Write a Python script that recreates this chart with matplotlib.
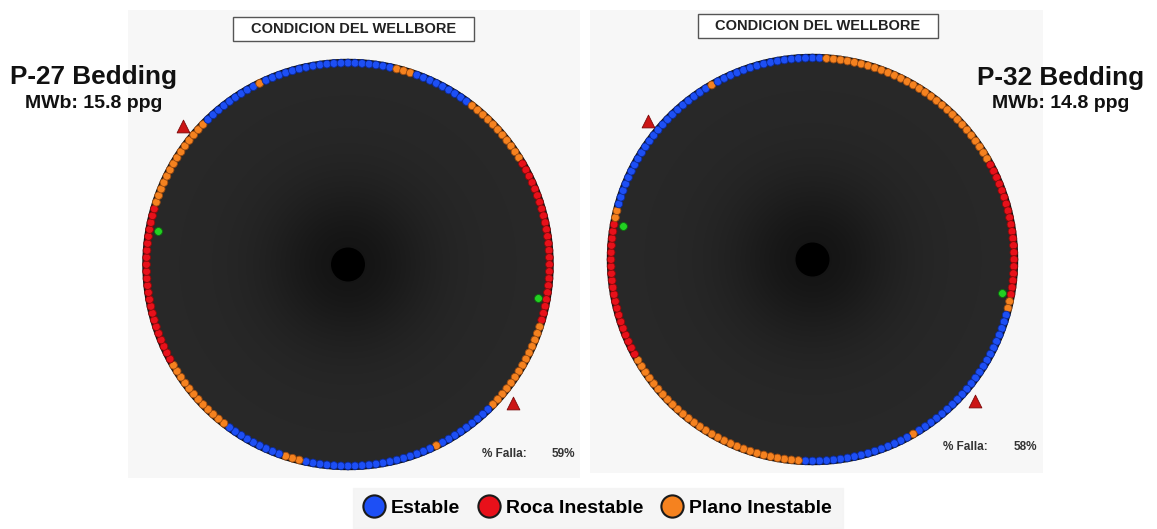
import numpy as np
import matplotlib
matplotlib.use("Agg")
import matplotlib.pyplot as plt
from matplotlib.patches import Circle, Rectangle
from matplotlib.lines import Line2D

plt.rcParams['font.family'] = ['Liberation Sans', 'DejaVu Sans']

# ---- data -------------------------------------------------------------
STATE_LABELS = ["Estable", "Roca Inestable", "Plano Inestable"]
STATE_FACE = ["#1d4ff5", "#e8101a", "#f5821f"]
STATE_EDGE = ["#0b2a9a", "#8a0a0a", "#9a4a10"]

WELL_NAMES = ["P-27 Bedding", "P-32 Bedding"]
MUD_WEIGHTS = [15.8, 14.8]          # ppg
AZ_STEP = 2.0                       # degrees between rim samples, from azimuth 0 clockwise

# run-length encoded state around the wellbore wall (0 estable, 1 roca, 2 plano)
p27_run_state = [0, 2, 0, 2, 1, 2, 0, 2, 0, 2, 0, 2, 1, 2, 0, 2, 0]
p27_run_len = [7, 3, 9, 11, 24, 14, 9, 1, 19, 3, 9, 12, 23, 14, 9, 1, 12]
p32_run_state = [0, 2, 1, 2, 0, 2, 0, 2, 1, 2, 0, 2, 0]
p32_run_len = [2, 29, 20, 2, 22, 1, 16, 29, 20, 2, 22, 1, 14]

# stress direction markers (azimuth, degrees)
green_az = [[280, 100], [280, 100]]
triangle_az = [[310, 130], [310, 131]]

# ---- layout (figure pixels) ------------------------------------------
W, H = 1157, 529
R = 205.0
panels = [
    dict(box=(128, 10, 580, 478), center=(348, 264.5), name_x=-254, name_y=180.5, mw_y=156,
         falla_x=134, falla_y=-192.5, pct_x=227, title_dy=0),
    dict(box=(590, 10, 1043, 473), center=(812.5, 259.5), name_x=248.5, name_y=174.5, mw_y=152,
         falla_x=130.5, falla_y=-190.5, pct_x=224.5, title_dy=-1.5),
]

fig = plt.figure(figsize=(W / 100, H / 100), dpi=100)
fig.patch.set_facecolor("white")


def expand(states, lengths):
    return np.repeat(np.asarray(states), np.asarray(lengths))


def polar_xy(az_deg, r):
    a = np.radians(az_deg)
    return r * np.sin(a), r * np.cos(a)


wells = [expand(p27_run_state, p27_run_len), expand(p32_run_state, p32_run_len)]

for i, (p, states) in enumerate(zip(panels, wells)):
    x0, y0, x1, y1 = p["box"]
    cx, cy = p["center"]
    ax = fig.add_axes([x0 / W, 1 - y1 / H, (x1 - x0) / W, (y1 - y0) / H])
    ax.set_xlim(x0 - cx, x1 - cx)
    ax.set_ylim(cy - y1, cy - y0)
    ax.set_facecolor("#f7f7f7")
    for s in ax.spines.values():
        s.set_visible(False)
    ax.set_xticks([])
    ax.set_yticks([])

    # dark wellbore disc with radial shading
    n = 400
    g = np.linspace(-1, 1, n)
    xx, yy = np.meshgrid(g, g)
    rr = np.hypot(xx, yy)
    shade = 0.158 - 0.08 * np.exp(-(rr / 0.4) ** 2)
    img = np.dstack([shade, shade, shade])
    im = ax.imshow(img, extent=(-R, R, -R, R), origin="lower", interpolation="bilinear", zorder=1)
    disc = Circle((0, 0), R, transform=ax.transData)
    im.set_clip_path(disc)
    ax.add_patch(Circle((0, 0), R, facecolor="none", edgecolor="#111111", lw=1.0, zorder=2))
    ax.add_patch(Circle((0, 0), 17, facecolor="black", edgecolor="none", zorder=2))

    # rim samples
    az = np.arange(len(states)) * AZ_STEP
    dx, dy = polar_xy(az, R - 3.5)
    face = [STATE_FACE[s] for s in states]
    edge = [STATE_EDGE[s] for s in states]
    ax.scatter(dx, dy, s=31, c=face, edgecolors=edge, linewidths=0.6, zorder=3)

    # stress markers
    gx, gy = polar_xy(np.array(green_az[i]), R * 0.94)
    ax.scatter(gx, gy, s=32, c="#22d022", edgecolors="#0d6a0d", linewidths=0.6, zorder=4)
    tx, ty = polar_xy(np.array(triangle_az[i]), R * 1.05)
    ax.scatter(tx, ty, s=85, marker="^", c="#cc1515", edgecolors="#7a0a0a", linewidths=0.6,
               zorder=4, clip_on=False)

    # title box
    ax.add_patch(Rectangle((-115, 223 + p["title_dy"]), 241, 24.5, facecolor="white",
                           edgecolor="#555555", lw=1.0, zorder=3))
    ax.text(5.5, 235 + p["title_dy"], "CONDICION DEL WELLBORE", ha="center", va="center",
            fontsize=10.5, fontweight="bold", color="#222222", zorder=4)

    # well name and mud weight
    ax.text(p["name_x"], p["name_y"], WELL_NAMES[i], ha="center", va="baseline",
            fontsize=18.8, fontweight="bold", color="#111111", clip_on=False, zorder=5)
    ax.text(p["name_x"], p["mw_y"], f"MWb: {MUD_WEIGHTS[i]:.1f} ppg", ha="center",
            va="baseline", fontsize=14, fontweight="bold", color="#111111", clip_on=False, zorder=5)

    # failure percentage
    pct = 100.0 * np.mean(states != 0)
    ax.text(p["falla_x"], p["falla_y"], "% Falla:", ha="left", va="baseline",
            fontsize=8.5, fontweight="bold", color="#333333", zorder=5)
    ax.text(p["pct_x"], p["falla_y"], f"{pct:.0f}%", ha="right", va="baseline",
            fontsize=8.5, fontweight="bold", color="#333333", zorder=5)

# legend
handles = [Line2D([], [], ls="none", marker="o", markersize=16, markerfacecolor=f,
                  markeredgecolor="#1a1a1a", markeredgewidth=1.5)
           for f in STATE_FACE]
leg = fig.legend(handles, STATE_LABELS, loc="center", bbox_to_anchor=(598 / W, 1 - 508 / H),
                 ncol=3, frameon=True, fancybox=False, handlelength=1.0, handletextpad=0.35,
                 columnspacing=1.0, borderpad=0.6, prop=dict(size=14, weight="bold"))
leg.get_frame().set_facecolor("#f3f3f3")
leg.get_frame().set_edgecolor("#f3f3f3")

fig.savefig("out.png", dpi=100, facecolor="white")
